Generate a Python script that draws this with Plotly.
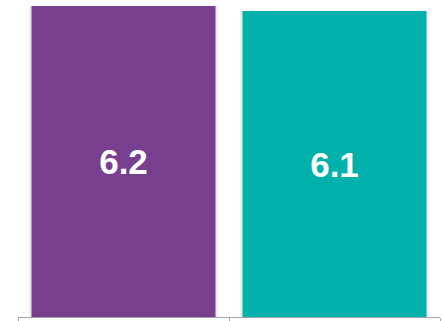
import plotly.graph_objects as go

categories = ["A", "B"]
values = [6.2, 6.1]
labels = ["6.2", "6.1"]
colors = ["#783F8F", "#00B0AA"]

fig = go.Figure()
# soft shadow behind bars
fig.add_trace(go.Bar(
    x=categories, y=values, width=0.895,
    marker=dict(color="rgba(0,0,0,0.07)", line=dict(width=0)),
    hoverinfo="skip", showlegend=False,
))
fig.add_trace(go.Bar(
    x=categories, y=values, width=0.872,
    marker=dict(color=colors, line=dict(width=0)),
    text=labels, textposition="inside", insidetextanchor="middle",
    textfont=dict(family="Liberation Sans, Arial, sans-serif", size=35,
                  color="white", weight="bold"),
    textangle=0, showlegend=False,
))

fig.update_layout(
    width=443, height=321,
    margin=dict(l=18, r=3, t=0, b=4, pad=0),
    paper_bgcolor="white", plot_bgcolor="white",
    barmode="overlay",
    xaxis=dict(
        showticklabels=False, showgrid=False, zeroline=False,
        showline=True, linecolor="#A6A6A6", linewidth=1,
        ticks="outside", ticklen=5, tickcolor="#A6A6A6", tickwidth=1,
        tickson="boundaries",
    ),
    yaxis=dict(
        range=[0, 6.32], visible=False, showgrid=False, zeroline=False,
    ),
)

fig.write_html("out.html")
